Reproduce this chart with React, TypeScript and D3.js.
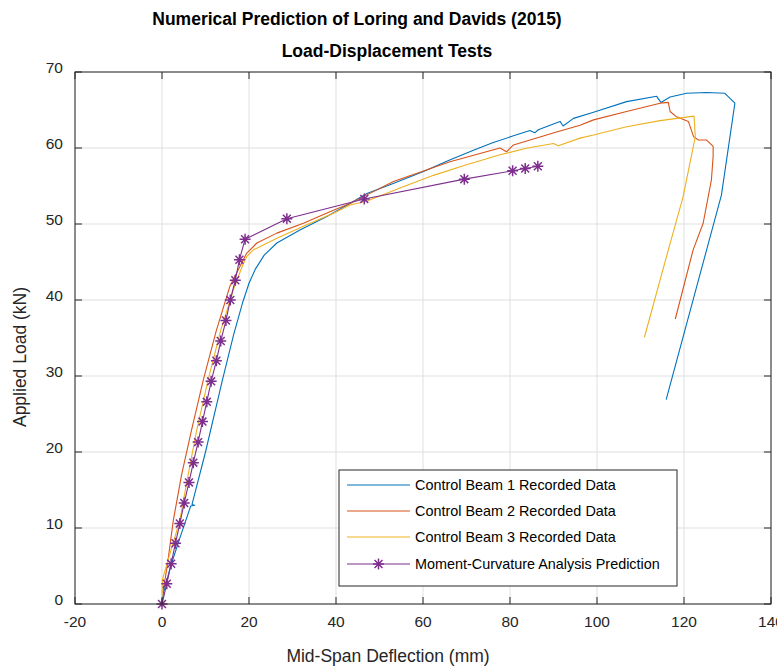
import React from "react";
import * as d3 from "d3";

type Pt = [number, number];

// Control Beam 1 (mm, kN)
const beam1: Pt[] = [
  [0, 0], [0.3, 1.4], [2, 5], [4, 8.5], [6.6, 12.9], [7.5, 13.0], [6.9, 13.1],
  [10, 20], [13.9, 29.5], [16.5, 35.5], [18.5, 39.6], [20, 42.2], [21.5, 44.1],
  [23.5, 45.9], [26.4, 47.5], [31.7, 49.2], [37.9, 51.0], [43.2, 52.7], [47.1, 54.0],
  [53, 55.3], [60.1, 56.9], [66, 58.4], [71.6, 59.7], [76, 60.7], [80.8, 61.6],
  [84.6, 62.3], [85.7, 62.0], [86.5, 62.4], [91.5, 63.5], [92.2, 62.9], [94.6, 63.9],
  [99.2, 64.7], [106.8, 66.1], [113.7, 66.8], [114.7, 66.0], [116.8, 66.7],
  [120.6, 67.2], [125.2, 67.3], [129.4, 67.2], [131.7, 65.9], [128.6, 53.8],
  [125.2, 46.6], [115.9, 26.9],
];

// Control Beam 2
const beam2: Pt[] = [
  [0.2, 1.5], [1.2, 5], [2.6, 11], [4.5, 17], [6.8, 22.9], [9.5, 29.5], [12.5, 36],
  [15.6, 41.8], [18, 44.5], [19.4, 46.1], [21.8, 47.5], [26.4, 48.8], [32.5, 50.1],
  [38.6, 51.6], [43.2, 52.7], [47, 53.8], [53.2, 55.6], [66.2, 58.2], [77.7, 60.0],
  [79.2, 59.5], [80.8, 60.4], [90.7, 62.1], [96.1, 63.0], [99.2, 63.7], [106.8, 64.8],
  [114.5, 65.9], [116.4, 66.0], [116.8, 64.8], [118.3, 64.1], [121, 63.5], [122.2, 61.5],
  [123.3, 61.05], [125.2, 61.05], [126.7, 60.2], [126.7, 58.9], [126.3, 55.8],
  [124.4, 50.1], [122.1, 46.6], [118, 37.5],
];

// Control Beam 3
const beam3: Pt[] = [
  [0, 1], [0.1, 3.2], [1.5, 6], [4.1, 11], [6, 17], [8, 22.9], [10.6, 29.5], [13.5, 36],
  [16.5, 41.5], [18.5, 44.5], [19.45, 45.7], [21, 46.6], [26.3, 48.1], [32.5, 49.7],
  [39.4, 51.4], [43.2, 52.5], [47, 53.0], [55, 54.8], [62.4, 56.4], [70, 57.8],
  [77.7, 59.1], [84, 60], [90, 60.6], [91.1, 60.3], [96.1, 61.3], [99.2, 61.7],
  [106.8, 62.8], [114.5, 63.6], [122.3, 64.2], [122.6, 61.5], [119.8, 53.6],
  [116.4, 46.6], [110.9, 35.1],
];

// Moment-curvature prediction
const predX = [0, 1.1, 2.1, 3.1, 4.1, 5.1, 6.2, 7.2, 8.3, 9.3, 10.3, 11.3, 12.5, 13.5,
  14.7, 15.7, 16.85, 17.8, 19.1, 28.7, 46.5, 69.5, 80.6, 83.5, 86.4];
const predY = [0, 2.66, 5.3, 8, 10.6, 13.3, 16, 18.6, 21.3, 24, 26.6, 29.3, 32, 34.6,
  37.3, 40, 42.6, 45.3, 48, 50.7, 53.3, 55.9, 57.0, 57.3, 57.6];

const xTicks = [-20, 0, 20, 40, 60, 80, 100, 120, 140];
const yTicks = [0, 10, 20, 30, 40, 50, 60, 70];

const seriesNames = [
  "Control Beam 1 Recorded Data",
  "Control Beam 2 Recorded Data",
  "Control Beam 3 Recorded Data",
  "Moment-Curvature Analysis Prediction",
];
const colors = ["#0072BD", "#D95319", "#EDB120", "#7E2F8E"];

const W = 777;
const H = 668;
const left = 75, right = 771, top = 72, bottom = 604;
const font = "'Liberation Sans', Arial, Helvetica, sans-serif";
const axisColor = "#262626";

const Star = ({ x, y, r, color }: { x: number; y: number; r: number; color: string }) => {
  const d = r * 0.72;
  return (
    <path
      d={`M${x - r},${y}H${x + r}M${x},${y - r}V${y + r}M${x - d},${y - d}L${x + d},${y + d}M${x - d},${y + d}L${x + d},${y - d}`}
      stroke={color}
      strokeWidth={1.5}
      fill="none"
    />
  );
};

export default function App() {
  const x = d3.scaleLinear().domain([-20, 140]).range([left, right]);
  const y = d3.scaleLinear().domain([0, 70]).range([bottom, top]);
  const line = d3.line<Pt>().x((d) => x(d[0])).y((d) => y(d[1]));
  const pred: Pt[] = predX.map((v, i) => [v, predY[i]]);
  const beams = [beam1, beam2, beam3];

  const legX = 339, legY = 470, legW = 338, legH = 116;
  const rowY = [485, 511, 537, 564];

  return (
    <svg width={W} height={H} style={{ position: "absolute", left: 0, top: 0, background: "#fff" }}>
      <rect x={0} y={0} width={W} height={H} fill="#fff" />
      {/* grid */}
      <g stroke="#dfdfdf" strokeWidth={1}>
        {xTicks.map((t) => (
          <line key={"gx" + t} x1={x(t)} x2={x(t)} y1={top} y2={bottom} />
        ))}
        {yTicks.map((t) => (
          <line key={"gy" + t} x1={left} x2={right} y1={y(t)} y2={y(t)} />
        ))}
      </g>
      {/* data */}
      <g fill="none" strokeWidth={1.1} strokeLinejoin="round">
        {beams.map((b, i) => (
          <path key={"b" + i} d={line(b) ?? ""} stroke={colors[i]} />
        ))}
        <path d={line(pred) ?? ""} stroke={colors[3]} />
      </g>
      {pred.map((p, i) => (
        <Star key={"s" + i} x={x(p[0])} y={y(p[1])} r={5.5} color={colors[3]} />
      ))}
      {/* box + ticks */}
      <rect x={left} y={top} width={right - left} height={bottom - top} fill="none" stroke={axisColor} strokeWidth={1} />
      <g stroke={axisColor} strokeWidth={1}>
        {xTicks.map((t) => (
          <g key={"tx" + t}>
            <line x1={x(t)} x2={x(t)} y1={bottom} y2={bottom - 7} />
            <line x1={x(t)} x2={x(t)} y1={top} y2={top + 7} />
          </g>
        ))}
        {yTicks.map((t) => (
          <g key={"ty" + t}>
            <line x1={left} x2={left + 7} y1={y(t)} y2={y(t)} />
            <line x1={right} x2={right - 7} y1={y(t)} y2={y(t)} />
          </g>
        ))}
      </g>
      <g fontFamily={font} fontSize={15.5} fill={axisColor}>
        {xTicks.map((t) => (
          <text key={"lx" + t} x={x(t)} y={bottom + 23} textAnchor="middle">{t}</text>
        ))}
        {yTicks.map((t) => (
          <text key={"ly" + t} x={left - 12} y={y(t) + 1} textAnchor="end">{t}</text>
        ))}
      </g>
      {/* axis labels */}
      <text x={388} y={662} textAnchor="middle" fontFamily={font} fontSize={17.5} fill={axisColor}>
        Mid-Span Deflection (mm)
      </text>
      <text
        transform={`translate(26,357) rotate(-90)`}
        textAnchor="middle"
        fontFamily={font}
        fontSize={17.5}
        fill={axisColor}
      >
        Applied Load (kN)
      </text>
      {/* titles */}
      <text x={357} y={25} textAnchor="middle" fontFamily={font} fontSize={17.5} fontWeight="bold" fill="#000">
        Numerical Prediction of Loring and Davids (2015)
      </text>
      <text x={387} y={57} textAnchor="middle" fontFamily={font} fontSize={17.5} fontWeight="bold" fill="#000">
        Load-Displacement Tests
      </text>
      {/* legend */}
      <rect x={legX} y={legY} width={legW} height={legH} fill="#fff" stroke={axisColor} strokeWidth={1} />
      {seriesNames.map((name, i) => (
        <g key={"lg" + i}>
          <line x1={347} x2={410} y1={rowY[i]} y2={rowY[i]} stroke={colors[i]} strokeWidth={1.1} />
          {i === 3 && <Star x={378.5} y={rowY[i]} r={5.5} color={colors[3]} />}
          <text x={415} y={rowY[i] + 5} fontFamily={font} fontSize={14.4} fill="#000">
            {name}
          </text>
        </g>
      ))}
    </svg>
  );
}
